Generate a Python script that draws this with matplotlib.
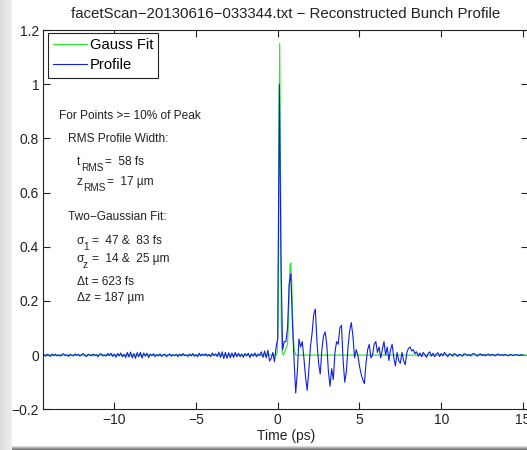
import numpy as np
import matplotlib
matplotlib.use("Agg")
import matplotlib.pyplot as plt

plt.rcParams['font.family'] = ['Liberation Sans', 'DejaVu Sans']

# Profile samples, 0.1 ps apart, starting at -14.3 ps
t_start = -14.3
t_step = 0.1
profile = [
    0.002, -0.004, 0.003, 0.000, -0.005, 0.004, -0.002, 0.003, -0.003, 0.001,
    -0.004, 0.002, 0.005, -0.002, 0.001, -0.005, 0.003, 0.000, -0.003, 0.004,
    -0.001, 0.003, -0.004, 0.002, 0.006, -0.002, -0.005, 0.003, 0.001, -0.003,
    0.004, -0.002, 0.002, -0.006, 0.003, 0.005, -0.003, 0.001, -0.004, 0.006,
    -0.002, 0.007, -0.005, 0.004, -0.008, 0.006, -0.003, 0.008, -0.006, 0.003,
    -0.009, 0.010, -0.007, 0.011, -0.010, 0.006, -0.012, 0.009, -0.006, 0.010,
    -0.011, 0.008, -0.004, 0.007, -0.009, 0.004, -0.002, 0.005, -0.006, 0.002,
    -0.003, 0.004, -0.005, 0.002, 0.003, -0.006, 0.001, 0.004, -0.004, 0.002,
    -0.002, 0.003, -0.006, 0.004, -0.003, 0.006, -0.002, 0.001, -0.005, 0.004,
    -0.003, 0.006, -0.004, 0.002, -0.006, 0.007, -0.003, 0.004, -0.002, 0.005,
    -0.004, 0.003, -0.006, 0.008, -0.002, 0.005, -0.005, 0.011, -0.009, 0.012,
    -0.013, 0.010, -0.012, 0.009, -0.010, 0.008, -0.009, 0.010, -0.006, 0.007,
    -0.006, 0.004, -0.008, 0.006, -0.003, 0.007, -0.009, 0.005, -0.004, 0.008,
    -0.006, 0.004, -0.002, 0.012, -0.008, 0.015, -0.010, 0.018, -0.022, -0.012,
    0.010, -0.024, 0.030, 0.060, 1.000, 0.350, 0.020, 0.050, 0.050, 0.100,
    0.260, 0.300, 0.120, -0.020, -0.140, -0.060, 0.060, 0.030, 0.050, -0.010,
    -0.080, -0.130, -0.060, 0.030, 0.080, 0.150, 0.170, 0.050, -0.030, -0.070,
    0.020, 0.070, 0.086, 0.040, -0.060, -0.115, -0.050, -0.090, 0.010, 0.050,
    0.040, 0.100, 0.110, -0.020, -0.100, -0.060, 0.030, 0.090, 0.120, 0.070,
    -0.010, 0.020, 0.000, -0.040, -0.070, -0.090, -0.105, -0.030, 0.020, 0.040,
    -0.010, 0.000, 0.040, 0.050, 0.010, 0.030, -0.010, 0.020, 0.050, 0.000,
    0.030, -0.020, 0.020, 0.040, -0.010, -0.040, 0.010, -0.020, -0.030, 0.010,
    -0.020, -0.035, 0.010, 0.025, 0.030, 0.015, 0.020, 0.005, 0.012, -0.004,
    0.008, -0.006, 0.010, 0.002, -0.008, 0.006, 0.012, -0.004, 0.007, -0.006,
    0.004, 0.009, -0.005, 0.006, -0.003, 0.010, 0.002, -0.006, 0.005, 0.003,
    -0.004, 0.006, 0.002, -0.005, 0.003, 0.001, -0.004, 0.005, 0.004, -0.002,
    0.003, -0.003, 0.004, 0.006, 0.002, -0.004, 0.002, 0.005, -0.002, 0.003,
    -0.003, 0.002, 0.004, -0.002, 0.003, 0.001, -0.003, 0.002, 0.004, -0.001,
    0.002, -0.002, 0.003, 0.000, -0.003, 0.002, 0.001, -0.002, 0.002, 0.000,
    0.001, -0.002, 0.002, 0.000,
]

# Two-Gaussian fit
fit_t = [-14.34, -0.1, -0.03, 0.02, 0.07, 0.12, 0.17, 0.22, 0.27, 0.35,
         0.6, 0.65, 0.7, 0.75, 0.8, 0.85, 0.9, 0.95, 1.0, 1.1, 15.3]
fit_v = [0, 0, 0.01, 0.12, 0.65, 1.15, 0.65, 0.12, 0.01, 0,
         0.04, 0.12, 0.24, 0.33, 0.34, 0.27, 0.16, 0.07, 0.02, 0, 0]

# plain text lines
notes = [
    (-13.38, 0.883, "For Points >= 10% of Peak"),
    (-12.83, 0.797, "RMS Profile Width:"),
    (-12.83, 0.510, "Two\u2212Gaussian Fit:"),
    (-12.28, 0.270, "\u0394t = 623 fs"),
    (-12.28, 0.210, "\u0394z = 187 \u00b5m"),
]
# lines with a subscript: symbol, subscript, rest
sub_notes = [
    (-12.28, 0.712, "t", "RMS", "=  58 fs"),
    (-12.28, 0.640, "z", "RMS", "=  17 \u00b5m"),
    (-12.28, 0.420, "\u03c3", "1", "=  47 &  83 fs"),
    (-12.28, 0.354, "\u03c3", "z", "=  14 &  25 \u00b5m"),
]

t = t_start + t_step * np.arange(len(profile))

W, H = 527, 450
fig = plt.figure(figsize=(W / 100, H / 100), dpi=100)

# window shadow on the left and bottom
sh = fig.add_axes([0, 0, 12 / W, 1])
sh.imshow(np.linspace(0.86, 0.93, 12)[None, :], cmap='gray', vmin=0, vmax=1,
          aspect='auto', extent=[0, 1, 0, 1])
sh.axis('off')
sb = fig.add_axes([12 / W, 0, 1, 4 / H])
sb.imshow(np.linspace(0.45, 0.85, 4)[:, None], cmap='gray', vmin=0, vmax=1,
          aspect='auto', extent=[0, 1, 0, 1], origin='lower')
sb.axis('off')

left, right, top, bottom = 43.3, 528.0, 30.0, 409.3
ax = fig.add_axes([left / W, 1 - bottom / H, (right - left) / W, (bottom - top) / H])

ax.plot(fit_t, fit_v, color='#33e633', lw=0.9, label='Gauss Fit')
ax.plot(t, profile, color='#1020e0', lw=0.8, label='Profile')

ax.set_xlim(-14.34, 15.31)
ax.set_ylim(-0.2, 1.2)
ax.set_xticks([-10, -5, 0, 5, 10, 15])
ax.set_xticklabels(['\u221210', '\u22125', '0', '5', '10', '15'])
ax.set_yticks([-0.2, 0, 0.2, 0.4, 0.6, 0.8, 1, 1.2])
ax.set_yticklabels(['\u22120.2', '0', '0.2', '0.4', '0.6', '0.8', '1', '1.2'])
ax.tick_params(direction='in', top=True, right=True, length=5, width=0.8,
               labelsize=10, colors='#222222', pad=3)
for s in ax.spines.values():
    s.set_color('#222222')
    s.set_linewidth(0.8)

ax.set_xlabel('Time (ps)', fontsize=10, color='#222222', labelpad=1)
ax.set_title('facetScan\u221220130616\u2212033344.txt \u2212 Reconstructed Bunch Profile',
             fontsize=10.8, color='#222222', pad=9)

fs = 8.6
for x, y, s in notes:
    ax.text(x, y, s, fontsize=fs, color='#222222', va='center', ha='left')

for x, y, sym, sub, rest in sub_notes:
    ax.text(x, y, sym, fontsize=fs, color='#222222', va='center', ha='left')
    w_sym = 4 if sym == 't' else 6
    ax.annotate(sub, (x, y), xytext=(w_sym, -6), textcoords='offset pixels',
                fontsize=7.2, color='#222222', va='center', ha='left')
    w_sub = 24 if sub == 'RMS' else 9
    ax.annotate(rest, (x, y), xytext=(w_sym + w_sub, 0), textcoords='offset pixels',
                fontsize=fs, color='#222222', va='center', ha='left')

leg = ax.legend(loc='upper left', bbox_to_anchor=(0.0097, 0.992), borderaxespad=0,
                fontsize=10.6, handlelength=2.3, handletextpad=0.2, borderpad=0.35,
                labelspacing=0.42, fancybox=False, framealpha=1, edgecolor='#222222')
leg.get_frame().set_linewidth(0.8)

fig.savefig('out.png', dpi=100)
